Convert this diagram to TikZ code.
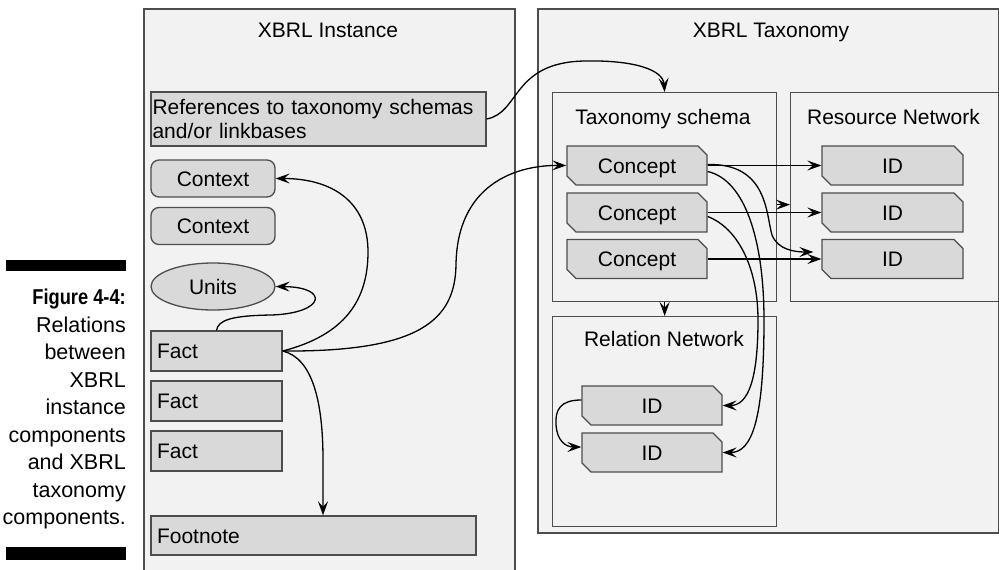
\documentclass[tikz,border=0pt]{standalone}
\usepackage{fontspec}
\setmainfont{Liberation Sans}
\newfontfamily\capbf{Liberation Sans}[FakeStretch=0.85]
\usetikzlibrary{arrows.meta,shapes.geometric,shapes.misc}
\definecolor{panelfill}{HTML}{F2F2F2}
\definecolor{boxfill}{HTML}{D9D9D9}
\definecolor{edgegray}{HTML}{4D4D4D}
\newcommand\mainsz{\fontsize{21}{25}\selectfont}
\begin{document}
\begin{tikzpicture}[x=1pt,y=-1pt,font=\mainsz,
  panel/.style={draw=edgegray, line width=1.6pt, fill=panelfill, anchor=north west, inner sep=0pt},
  subpanel/.style={panel, line width=1.3pt},
  box/.style={draw=edgegray, line width=1.3pt, fill=boxfill, inner sep=0pt, text height=15pt, text depth=0pt},
  plainbox/.style={box, rectangle},
  ctxbox/.style={box, rectangle, rounded corners=8pt, minimum width=124pt, minimum height=37pt},
  chbox/.style={box, chamfered rectangle, chamfered rectangle corners={north east,south west},
     chamfered rectangle xsep=4.5pt, chamfered rectangle ysep=4.5pt, minimum height=39pt},
  ttl/.style={anchor=base, inner sep=0pt},
  conn/.style={draw=black, line width=1.3pt, -{Stealth[length=14pt,width=10pt,inset=5.5pt]}}
]
\useasboundingbox (0,0) rectangle (999,570);

% caption
\fill[black] (6,260) rectangle (126,271);
\fill[black] (6,547) rectangle (126,560);
\node[anchor=north east, inner sep=0pt, align=right, font=\fontsize{21.5}{27.5}\selectfont] (cap) at (126,289)
  {{\capbf\bfseries Figure 4-4:}\\Relations\\between\\XBRL\\instance\\components\\and XBRL\\taxonomy\\components.};

% panels
\node[panel, minimum width=371pt, minimum height=575pt] (inst) at (143,8) {};
\node[panel, minimum width=461pt, minimum height=524pt] (tax) at (537,8) {};
\node[ttl] (instttl) at (328,37) {XBRL Instance};
\node[ttl] (taxttl) at (771,37) {XBRL Taxonomy};

\node[subpanel, minimum width=224pt, minimum height=209pt] (schema) at (552,92) {};
\node[subpanel, minimum width=208pt, minimum height=209pt] (res) at (790,92) {};
\node[subpanel, minimum width=224pt, minimum height=210pt] (rel) at (552,316) {};
\node[ttl] (schemattl) at (663,124) {Taxonomy schema};
\node[ttl] (resttl) at (893.5,124) {Resource Network};
\node[ttl] (relttl) at (664,346) {Relation Network};

% taxonomy boxes
\node[chbox, minimum width=140pt] (c1) at (637,165.5) {Concept};
\node[chbox, minimum width=140pt] (c2) at (637,212.5) {Concept};
\node[chbox, minimum width=140pt] (c3) at (637,259) {Concept};
\node[chbox, minimum width=141pt] (rid1) at (892.5,165.5) {ID};
\node[chbox, minimum width=141pt] (rid2) at (892.5,212.5) {ID};
\node[chbox, minimum width=141pt] (rid3) at (892.5,259) {ID};
\node[chbox, minimum width=140pt] (lid1) at (652,405.5) {ID};
\node[chbox, minimum width=140pt] (lid2) at (652,452.5) {ID};

% instance boxes
\node[plainbox, minimum width=335pt, minimum height=54pt, text width=332pt, inner xsep=1.5pt,
      align=left, text height=15pt, text depth=24pt, font=\fontsize{21}{24}\selectfont] (refs) at (318.5,119)
  {References to taxonomy schemas\\and/or linkbases};
\node[ctxbox] (ctx1) at (213,178.5) {Context};
\node[ctxbox] (ctx2) at (213,226) {Context};
\node[box, ellipse, minimum width=124pt, minimum height=47pt] (units) at (213,286.5) {Units};
\node[plainbox, minimum width=131pt, minimum height=40pt, text width=119pt, inner xsep=6pt, align=left] (f1) at (216.5,351) {Fact};
\node[plainbox, minimum width=131pt, minimum height=40pt, text width=119pt, inner xsep=6pt, align=left] (f2) at (216.5,401) {Fact};
\node[plainbox, minimum width=131pt, minimum height=40pt, text width=119pt, inner xsep=6pt, align=left] (f3) at (216.5,451) {Fact};
\node[plainbox, minimum width=325pt, minimum height=39pt, text width=313pt, inner xsep=6pt, align=left] (foot) at (313.5,535.5) {Footnote};

% connectors
\draw[conn] (refs.east) .. controls (520,113) and (512,62) .. (585,61) .. controls (635,60) and (663,70) .. (schema.north);
\draw[conn] (f1.east) .. controls (345,335) and (368,300) .. (368,252) .. controls (368,200) and (330,178.5) .. (ctx1.east);
\draw[conn] (f1.north) .. controls (218,320) and (232,315.5) .. (272,315) .. controls (325,313) and (330,287) .. (units.east);
\draw[conn] (f1.east) .. controls (420,352) and (455,320) .. (456,265) .. controls (457,185) and (515,165) .. (c1.west);
\draw[conn] (f1.east) .. controls (312,358) and (323,400) .. (323,460) -- ([xshift=9.5pt]foot.north);

\draw[conn] (c1.east) -- (rid1.west);
\draw[conn] (c2.east) -- (rid2.west);
\draw[conn] (c3.east) -- (rid3.west);
\draw[conn] ([yshift=1pt]c1.east) .. controls (768,163) and (766,215) .. (772,235) .. controls (778,250) and (795,252) .. ([shift={(-8,-7)}]rid3.west);
\draw[conn] ([yshift=-7.5pt]schema.east) -- ([yshift=-7.5pt]res.west);
\draw[conn] (schema.south) -- (rel.north);
\draw[conn] ([yshift=-6pt]c1.east) .. controls (745,180) and (764,240) .. (764,320) .. controls (764,420) and (752,452.5) .. (lid2.east);
\draw[conn] ([yshift=-4pt]c2.east) .. controls (738,228) and (758,268) .. (758,320) .. controls (758,380) and (748,405.5) .. (lid1.east);
\draw[conn] ([yshift=5.5pt]lid1.west) .. controls (560,400) and (555,410) .. (556,425) .. controls (557,440) and (565,447) .. ([yshift=5.5pt]lid2.west);
\end{tikzpicture}
\end{document}
